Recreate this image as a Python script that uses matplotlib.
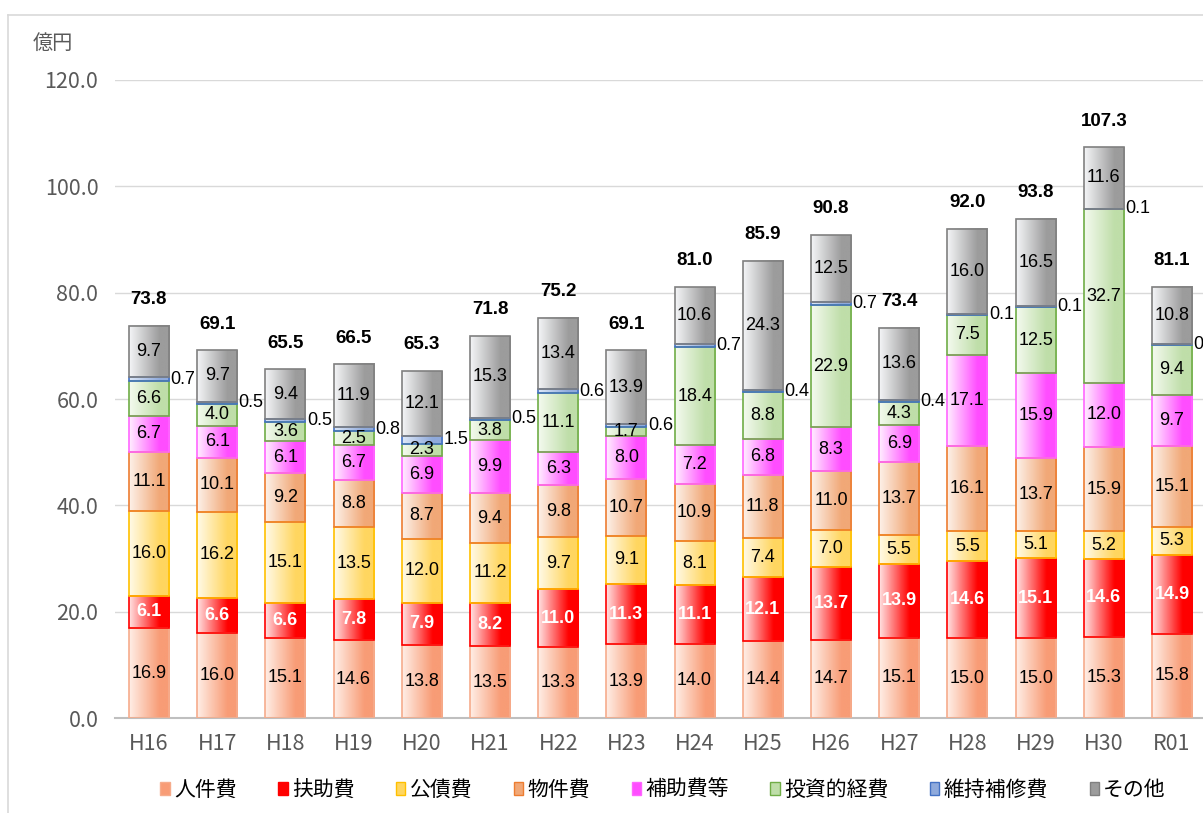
import numpy as np
import matplotlib
matplotlib.use("Agg")
import matplotlib.pyplot as plt
from matplotlib.colors import LinearSegmentedColormap
from matplotlib.patches import Patch
from matplotlib.lines import Line2D

plt.rcParams['font.family'] = ['Noto Sans CJK JP', 'DejaVu Sans']

# data
years = ['H16', 'H17', 'H18', 'H19', 'H20', 'H21', 'H22', 'H23',
         'H24', 'H25', 'H26', 'H27', 'H28', 'H29', 'H30', 'R01']
jinkenhi = [16.9, 16.0, 15.1, 14.6, 13.8, 13.5, 13.3, 13.9, 14.0, 14.4, 14.7, 15.1, 15.0, 15.0, 15.3, 15.8]
fujohi = [6.1, 6.6, 6.6, 7.8, 7.9, 8.2, 11.0, 11.3, 11.1, 12.1, 13.7, 13.9, 14.6, 15.1, 14.6, 14.9]
kousaihi = [16.0, 16.2, 15.1, 13.5, 12.0, 11.2, 9.7, 9.1, 8.1, 7.4, 7.0, 5.5, 5.5, 5.1, 5.2, 5.3]
bukkenhi = [11.1, 10.1, 9.2, 8.8, 8.7, 9.4, 9.8, 10.7, 10.9, 11.8, 11.0, 13.7, 16.1, 13.7, 15.9, 15.1]
hojohi = [6.7, 6.1, 6.1, 6.7, 6.9, 9.9, 6.3, 8.0, 7.2, 6.8, 8.3, 6.9, 17.1, 15.9, 12.0, 9.7]
toushi = [6.6, 4.0, 3.6, 2.5, 2.3, 3.8, 11.1, 1.7, 18.4, 8.8, 22.9, 4.3, 7.5, 12.5, 32.7, 9.4]
iji = [0.7, 0.5, 0.5, 0.8, 1.5, 0.5, 0.6, 0.6, 0.7, 0.4, 0.7, 0.4, 0.1, 0.1, 0.1, 0.1]
sonota = [9.7, 9.7, 9.4, 11.9, 12.1, 15.3, 13.4, 13.9, 10.6, 24.3, 12.5, 13.6, 16.0, 16.5, 11.6, 10.8]
totals = [73.8, 69.1, 65.5, 66.5, 65.3, 71.8, 75.2, 69.1, 81.0, 85.9, 90.8, 73.4, 92.0, 93.8, 107.3, 81.1]

names = ['人件費', '扶助費', '公債費', '物件費', '補助費等', '投資的経費', '維持補修費', 'その他']
series = [jinkenhi, fujohi, kousaihi, bukkenhi, hojohi, toushi, iji, sonota]

# (light, dark, edge)
styles = [
    ('#FFEEE6', '#F89C76', '#F6AC8C'),
    ('#FFE2E2', '#FF0000', '#FF0000'),
    ('#FFFAE8', '#FFD660', '#FFC000'),
    ('#FDF1E9', '#F1A877', '#ED7D31'),
    ('#FFEEFF', '#FF4DFF', '#FF66FF'),
    ('#F4FAEF', '#BFDEA9', '#70AD47'),
    ('#DDE8F8', '#8FAADC', '#4472C4'),
    ('#F4F5F7', '#9C9C9C', '#808080'),
]

num_font = ['Liberation Sans', 'DejaVu Sans']

W, H = 1203, 813
fig = plt.figure(figsize=(W / 100, H / 100), dpi=100)
ax = fig.add_axes([115 / W, 1 - 718 / H, 1 - 115 / W, (718 - 80) / H])

x = np.arange(len(years))
width = 0.587
bottom = np.zeros(len(years))
grad = np.linspace(0, 1, 64).reshape(1, -1)

for name, vals, (light, dark, edge) in zip(names, series, styles):
    vals = np.array(vals)
    bars = ax.bar(x, vals, width, bottom=bottom, facecolor='none',
                  edgecolor=edge, linewidth=1.2, zorder=3, label=name)
    cmap = LinearSegmentedColormap.from_list(name, [(0, light), (0.75, dark), (1.0, dark)])
    for b in bars:
        bx, by = b.get_x(), b.get_y()
        ax.imshow(grad, extent=[bx, bx + b.get_width(), by, by + b.get_height()],
                  aspect='auto', cmap=cmap, zorder=2, interpolation='bicubic')
    for b, v in zip(bars, vals):
        cy = b.get_y() + b.get_height() / 2
        if name == '維持補修費':
            ax.annotate(f'{v:.1f}', (b.get_x() + b.get_width(), cy), xytext=(1, 0),
                        textcoords='offset points', ha='left', va='center',
                        fontsize=13, family=num_font,
                        color='black', zorder=5, annotation_clip=False)
        elif name == '扶助費':
            ax.text(b.get_x() + b.get_width() / 2, cy, f'{v:.1f}', ha='center', va='center',
                    fontsize=13, family=num_font,
                    color='white', fontweight='bold', zorder=5)
        else:
            ax.text(b.get_x() + b.get_width() / 2, cy, f'{v:.1f}', ha='center', va='center',
                    fontsize=13, family=num_font,
                    color='black', zorder=5)
    bottom = bottom + vals

for xi, t in zip(x, totals):
    ax.annotate(f'{t:.1f}', (xi, t), xytext=(0, 19), textcoords='offset points',
                ha='center', va='center', fontsize=13.5, fontweight='bold',
                family=['Liberation Sans', 'DejaVu Sans'], color='black',
                annotation_clip=False)

ax.set_xlim(-0.4985, 15.454)
ax.set_ylim(0, 120)
ax.set_yticks(np.arange(0, 121, 20))
ax.set_yticklabels([f'{v:.1f}' for v in np.arange(0, 121, 20)])
ax.set_xticks(x)
ax.set_xticklabels(years)
ax.tick_params(axis='both', length=0, labelsize=15.5, labelcolor='#595959')
ax.tick_params(axis='y', pad=12)
ax.tick_params(axis='x', pad=11)
ax.grid(axis='y', color='#D9D9D9', linewidth=1.0, zorder=0)
ax.set_axisbelow(True)
for s in ['top', 'right', 'left']:
    ax.spines[s].set_visible(False)
ax.spines['bottom'].set_color('#BFBFBF')
ax.spines['bottom'].set_linewidth(1.5)

fig.text(53 / W, 1 - 43 / H, '億円', ha='center', va='center', fontsize=14.5, color='#595959')

# outer chart frame
fig.add_artist(Line2D([8 / W, 1], [1 - 15 / H, 1 - 15 / H], color='#D9D9D9', linewidth=1.2))
fig.add_artist(Line2D([8 / W, 8 / W], [1 - 15 / H, 0], color='#D9D9D9', linewidth=1.2))

handles = [Patch(facecolor=d, edgecolor=e, linewidth=1.0) for (l, d, e) in styles]
fig.legend(handles, names, loc='center', bbox_to_anchor=(663 / W, 1 - 790 / H), ncol=8,
           frameon=False, fontsize=15, handlelength=0.45, handleheight=0.6,
           handletextpad=0.2, columnspacing=2.0, borderpad=0.2)

fig.savefig('out.png', dpi=100)
